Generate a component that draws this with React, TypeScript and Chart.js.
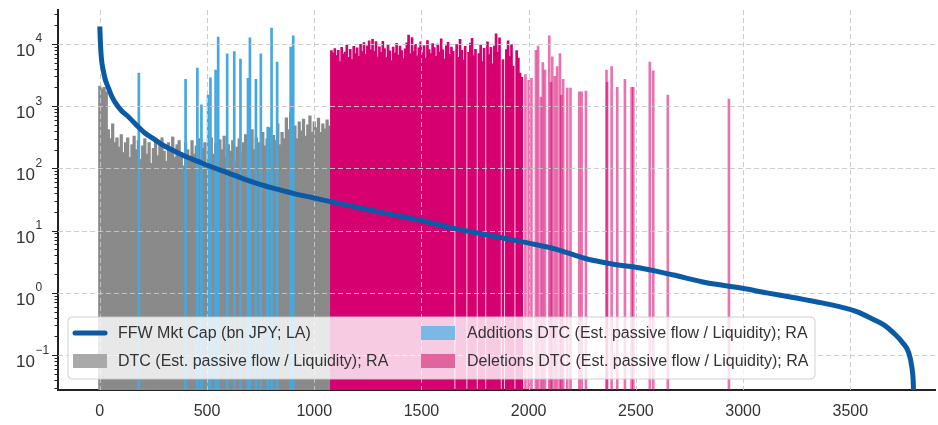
import React, { useEffect, useRef } from "react";
import { Chart, registerables } from "chart.js";

Chart.register(...registerables);

// ---------- data ----------
const legendLabels = [
  "FFW Mkt Cap (bn JPY; LA)",
  "DTC (Est. passive flow / Liquidity); RA",
  "Additions DTC (Est. passive flow / Liquidity); RA",
  "Deletions DTC (Est. passive flow / Liquidity); RA",
];

const xTickValues = [0, 500, 1000, 1500, 2000, 2500, 3000, 3500];
const yMajorExponents = [-1, 0, 1, 2, 3, 4];

// FFW market cap by rank (left axis)
const mktCapRank = [0, 2, 5, 9, 15, 25, 39, 55, 70, 100, 132, 170, 210, 250, 290, 340, 400, 460, 520, 600, 670, 750, 830, 910, 990, 1070, 1180, 1300, 1420, 1500, 1620, 1750, 1880, 2000, 2130, 2260, 2390, 2520, 2670, 2830, 2990, 3110, 3220, 3340, 3450, 3530, 3610, 3660, 3700, 3745, 3773, 3787, 3793, 3796];
const mktCapValue = [19000, 12000, 7500, 5200, 3900, 2700, 2000, 1450, 1170, 850, 680, 500, 370, 300, 240, 195, 155, 128, 106, 84, 68, 55, 46, 39, 34, 29.5, 24.5, 20, 16.5, 14.5, 11.5, 9.3, 7.6, 6.3, 5, 3.6, 2.9, 2.5, 1.95, 1.45, 1.2, 1.0, 0.86, 0.72, 0.6, 0.5, 0.37, 0.3, 0.23, 0.157, 0.108, 0.064, 0.04, 0.02];

// DTC of current constituents (rank 0..1080, every 10th rank)
const dtcRankStart = 0;
const dtcRankStep = 10;
const dtcValue = [
  2100, 1900, 2000, 1700, 420, 300, 520, 260, 310, 220,
  350, 180, 260, 310, 150, 240, 330, 200, 280, 140,
  230, 300, 170, 260, 120, 210, 290, 160, 240, 310,
  190, 130, 260, 220, 320, 150, 240, 280, 180, 110,
  260, 200, 130, 280, 170, 230, 300, 140, 210, 260,
  120, 230, 310, 170, 250, 140, 290, 200, 330, 150,
  240, 190, 280, 130, 220, 300, 180, 260, 350, 160,
  240, 420, 200, 310, 260, 180, 380, 230, 300, 450,
  210, 340, 280, 520, 240, 380, 300, 650, 420, 780,
  350, 480, 300, 560, 400, 620, 330, 500, 700, 380,
  560, 450, 640, 380, 520, 430, 600, 480, 350,
];

// Additions
const additionsRank = [182, 400, 455, 474, 505, 516, 540, 552, 594, 627, 656, 691, 700, 728, 751, 783, 801, 827, 890, 902];
const additionsValue = [3400, 2700, 4100, 1050, 1500, 2850, 3800, 12900, 6900, 7500, 5700, 2800, 12500, 2700, 6900, 460, 18000, 5100, 8900, 13400];

// Deletions (dense block, every 8th rank from 1080)
const deletionsDenseRankStart = 1080;
const deletionsDenseRankStep = 8;
const deletionsDenseValue = [
  7800, 7200, 8400, 6500, 7900, 5200, 8800, 6900, 7400, 9600,
  6100, 8200, 5600, 9100, 7000, 8600, 6300, 9800, 7500, 10500,
  6800, 9300, 11200, 8000, 11800, 7600, 10900, 6200, 9000, 7300,
  11000, 8400, 6000, 9500, 7700, 5400, 8900, 7100, 10200, 6600,
  9200, 7800, 5800, 8300, 10400, 13800, 6900, 12600, 7500, 9800,
  6400, 8600, 10800, 7200, 9400, 5900, 11300, 8100, 7000, 10100,
  8700, 6300, 9900, 7400, 12000, 8000, 5700, 9300, 10600, 6800,
  8900, 7600, null, 9700, 6100, 11800, 7900, 5500, 9100, null,
  7300, 10300, 12300, 6500, 8200, null, 7000, 9600, 5200, 8500,
  null, 10800, 6700, 8800, 4800, 9200, 14500, 7400, 12500, null,
  5600, null, 8100, 11200, 6300, 9700, 4400, null, 7800, 5900,
  3400, 2900,
];
// Deletions (sparse tail)
const deletionsSparseRank = [1985, 2000, 2013, 2034, 2044, 2057, 2066, 2076, 2096, 2104, 2110, 2122, 2133, 2146, 2152, 2161, 2180, 2195, 2236, 2247, 2267, 2363, 2366, 2387, 2413, 2449, 2480, 2488, 2565, 2581, 2649, 2934];
const deletionsSparseValue = [3200, 2600, 2800, 7900, 9200, 1400, 5000, 3800, 13400, 2400, 6200, 3000, 4300, 7000, 1500, 2700, 1950, 1950, 1700, 1700, 1750, 3800, 2400, 4300, 2000, 2700, 2000, 2000, 5100, 3700, 1500, 1300];

// ---------- styling ----------
const FONT = "'Liberation Sans', Arial, Helvetica, sans-serif";
const TEXT_COLOR = "#333";
const LINE_COLOR = "#0b5aa6";
const GRAY = "rgb(138,138,138)";
const BLUE = "rgb(70,168,222)";
const MAGENTA = "rgb(214,0,112)";
const MAGENTA_LIGHT = "rgba(214,0,112,0.55)";

const expText = (n: number) => (n < 0 ? "\u2212" + String(-n) : String(n));

const gridPlugin = {
  id: "gridUnderLine",
  beforeDatasetDraw(chart: any, args: any) {
    if (args.meta.type !== "line") return;
    const { ctx, chartArea, scales } = chart;
    ctx.save();
    ctx.beginPath();
    ctx.rect(chartArea.left, chartArea.top, chartArea.right - chartArea.left, chartArea.bottom - chartArea.top);
    ctx.clip();
    ctx.strokeStyle = "rgba(200,200,200,0.9)";
    ctx.lineWidth = 1;
    ctx.setLineDash([5, 3]);
    for (const v of xTickValues) {
      const px = Math.round(scales.x.getPixelForValue(v)) + 0.5;
      ctx.beginPath();
      ctx.moveTo(px, chartArea.top);
      ctx.lineTo(px, chartArea.bottom);
      ctx.stroke();
    }
    for (const e of yMajorExponents) {
      const py = Math.round(scales.y.getPixelForValue(Math.pow(10, e))) + 0.5;
      ctx.beginPath();
      ctx.moveTo(chartArea.left, py);
      ctx.lineTo(chartArea.right, py);
      ctx.stroke();
    }
    ctx.restore();
  },
};

// y tick marks (major + minor) and "10^n" labels with a real superscript
const yAxisPlugin = {
  id: "yAxisDecor",
  afterDraw(chart: any) {
    const { ctx, chartArea, scales } = chart;
    const ys = scales.y;
    ctx.save();
    ctx.strokeStyle = "#222";
    ctx.lineWidth = 1;
    for (const t of ys.ticks) {
      const py = Math.round(ys.getPixelForValue(t.value)) + 0.5;
      if (py < chartArea.top || py > chartArea.bottom) continue;
      const len = t.major ? 6 : 3.5;
      ctx.beginPath();
      ctx.moveTo(chartArea.left - len, py);
      ctx.lineTo(chartArea.left, py);
      ctx.stroke();
    }
    ctx.fillStyle = TEXT_COLOR;
    ctx.textAlign = "left";
    ctx.textBaseline = "alphabetic";
    for (const e of yMajorExponents) {
      const py = ys.getPixelForValue(Math.pow(10, e));
      ctx.font = `17px ${FONT}`;
      const baseX = 16;
      ctx.fillText("10", baseX, py + 12);
      const w = ctx.measureText("10").width;
      ctx.font = `12px ${FONT}`;
      ctx.fillText(expText(e), baseX + w + 0.5, py - 1.5);
    }
    ctx.restore();
  },
};

const legendPlugin = {
  id: "boxLegend",
  afterDraw(chart: any) {
    const { ctx } = chart;
    const x0 = 68, y0 = 317, x1 = 815, y1 = 379, r = 4;
    ctx.save();
    ctx.beginPath();
    ctx.moveTo(x0 + r, y0);
    ctx.lineTo(x1 - r, y0);
    ctx.quadraticCurveTo(x1, y0, x1, y0 + r);
    ctx.lineTo(x1, y1 - r);
    ctx.quadraticCurveTo(x1, y1, x1 - r, y1);
    ctx.lineTo(x0 + r, y1);
    ctx.quadraticCurveTo(x0, y1, x0, y1 - r);
    ctx.lineTo(x0, y0 + r);
    ctx.quadraticCurveTo(x0, y0, x0 + r, y0);
    ctx.closePath();
    ctx.fillStyle = "rgba(255,255,255,0.8)";
    ctx.fill();
    ctx.strokeStyle = "rgba(204,204,204,0.9)";
    ctx.lineWidth = 1;
    ctx.stroke();

    const row1 = 333, row2 = 361;
    ctx.strokeStyle = LINE_COLOR;
    ctx.lineWidth = 5;
    ctx.lineCap = "round";
    ctx.beginPath();
    ctx.moveTo(75, row1);
    ctx.lineTo(105, row1);
    ctx.stroke();
    ctx.fillStyle = "#a9a9a9";
    ctx.fillRect(73, row2 - 7, 34, 14);
    ctx.fillStyle = "#7ab9e6";
    ctx.fillRect(421, row1 - 7, 34, 14);
    ctx.fillStyle = "#e2649e";
    ctx.fillRect(421, row2 - 7, 34, 14);

    ctx.fillStyle = TEXT_COLOR;
    ctx.font = `16px ${FONT}`;
    ctx.textBaseline = "middle";
    ctx.textAlign = "left";
    ctx.fillText(legendLabels[0], 118, row1 + 1);
    ctx.fillText(legendLabels[1], 118, row2 + 1);
    ctx.fillText(legendLabels[2], 467, row1 + 1);
    ctx.fillText(legendLabels[3], 467, row2 + 1);
    ctx.restore();
  },
};

export default function App() {
  const canvasRef = useRef<HTMLCanvasElement | null>(null);

  useEffect(() => {
    const canvas = canvasRef.current;
    if (!canvas) return;

    const lineData = mktCapRank.map((x, i) => ({ x, y: mktCapValue[i] }));
    const dtcData = dtcValue.map((y, i) => ({ x: dtcRankStart + i * dtcRankStep, y }));
    const addData = additionsRank.map((x, i) => ({ x, y: additionsValue[i] }));
    const delData = [
      ...deletionsDenseValue
        .map((y, i) => ({ x: deletionsDenseRankStart + i * deletionsDenseRankStep, y }))
        .filter((d) => d.y !== null),
      ...deletionsSparseRank.map((x, i) => ({ x, y: deletionsSparseValue[i] })),
    ];

    const chart = new Chart(canvas, {
      type: "bar",
      data: {
        datasets: [
          {
            type: "line",
            label: legendLabels[0],
            data: lineData,
            borderColor: LINE_COLOR,
            borderWidth: 5,
            pointRadius: 0,
            fill: false,
            cubicInterpolationMode: "monotone",
            order: 0,
          } as any,
          {
            type: "bar",
            label: legendLabels[2],
            data: addData,
            backgroundColor: BLUE,
            barThickness: 2,
            grouped: false,
            order: 1,
          } as any,
          {
            type: "bar",
            label: legendLabels[3],
            data: delData,
            backgroundColor: (c: any) => (c.raw && c.raw.x > 1975 ? MAGENTA_LIGHT : MAGENTA),
            barThickness: (c: any) => (c.raw && c.raw.x > 1975 ? 1.6 : 2),
            grouped: false,
            order: 1,
          } as any,
          {
            type: "bar",
            label: legendLabels[1],
            data: dtcData,
            backgroundColor: GRAY,
            barThickness: 2.6,
            grouped: false,
            order: 2,
          } as any,
        ],
      },
      options: {
        responsive: false,
        animation: false,
        layout: { padding: { top: 10, right: 3, left: 0, bottom: 0 } },
        plugins: {
          legend: { display: false },
          tooltip: { enabled: false },
        },
        scales: {
          x: {
            type: "linear",
            min: -195,
            max: 3895,
            offset: false,
            afterBuildTicks: (s: any) => {
              s.ticks = xTickValues.map((v) => ({ value: v }));
            },
            afterFit: (s: any) => {
              s.height = 35;
            },
            grid: { display: false, drawTicks: false, offset: false },
            border: { display: true, color: "#222", width: 2 },
            ticks: {
              autoSkip: false,
              maxRotation: 0,
              padding: 12,
              color: TEXT_COLOR,
              font: { family: FONT, size: 16 },
              callback: (v: any) => String(v),
            },
          },
          y: {
            type: "logarithmic",
            min: 0.0275,
            max: 35000,
            afterBuildTicks: (s: any) => {
              const t: any[] = [];
              for (let e = -2; e <= 4; e++) {
                for (let m = 1; m <= 9; m++) {
                  const v = m * Math.pow(10, e);
                  if (v >= s.min && v <= s.max) t.push({ value: v, major: m === 1 });
                }
              }
              s.ticks = t;
            },
            afterFit: (s: any) => {
              s.width = 58;
            },
            grid: { display: false, drawTicks: false },
            border: { display: true, color: "#222", width: 2 },
            ticks: { display: false, autoSkip: false },
          },
        },
      } as any,
      plugins: [gridPlugin, yAxisPlugin, legendPlugin],
    });

    return () => chart.destroy();
  }, []);

  return (
    <div style={{ position: "absolute", left: 0, top: 0, width: 938, height: 425, background: "#fff" }}>
      <canvas ref={canvasRef} width={938} height={425} style={{ display: "block" }} />
    </div>
  );
}
